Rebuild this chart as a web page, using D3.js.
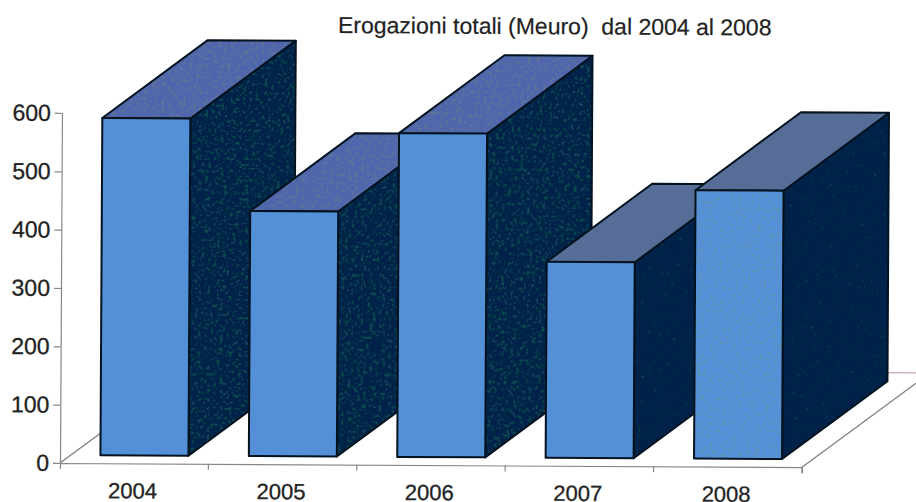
<!DOCTYPE html>
<html>
<head>
<meta charset="utf-8">
<title>Erogazioni totali</title>
<script src="https://cdnjs.cloudflare.com/ajax/libs/d3/7.8.5/d3.min.js"></script>
<style>
  html, body { margin: 0; padding: 0; background: #fff; }
  svg { display: block; }
  text { font-family: "Liberation Sans", Arial, sans-serif; fill: #222; }
  .axis path, .axis line { stroke: #8a8588; stroke-width: 1.2; }
</style>
</head>
<body>
<div id="chart"></div>
<script>
var years = ["2004", "2005", "2006", "2007", "2008"];
var erogazioni = [578, 420, 555, 336, 460];
var yTicks = [0, 100, 200, 300, 400, 500, 600];
var titleText = "Erogazioni totali (Meuro)  dal 2004 al 2008";

var width = 916, height = 502;
var origin = { x: 60, y: 463 };
var plotWidth = 742, plotHeight = 350;

// 3d offsets: the bar depth and the gap to the front of the floor
var depth = { x: 105, y: -78.5 };
var inset = { x: 10.2, y: -8 };
var floorDepth = { x: 121, y: -90 };
var backWallY = -95;

var svg = d3.select("#chart").append("svg")
  .attr("width", width)
  .attr("height", height);

// speckle from the scan, stronger on the older bars
var defs = svg.append("defs");
function speckle(id, cut, colour) {
  var f = defs.append("filter").attr("id", id)
    .attr("x", 0).attr("y", 0).attr("width", 1).attr("height", 1);
  f.append("feTurbulence")
    .attr("type", "fractalNoise").attr("baseFrequency", 0.32)
    .attr("numOctaves", 3).attr("seed", 4).attr("result", "noise");
  f.append("feColorMatrix").attr("in", "noise").attr("type", "matrix")
    .attr("values", "0 0 0 0 0  0 0 0 0 0  0 0 0 0 0  " + "12 0 0 0 " + cut)
    .attr("result", "mask");
  f.append("feFlood").attr("flood-color", colour).attr("result", "col");
  f.append("feComposite").attr("in", "col").attr("in2", "mask")
    .attr("operator", "in").attr("result", "dots");
  f.append("feComposite").attr("in", "dots").attr("in2", "SourceAlpha")
    .attr("operator", "in").attr("result", "clipped");
  var m = f.append("feMerge");
  m.append("feMergeNode").attr("in", "SourceGraphic");
  m.append("feMergeNode").attr("in", "clipped");
}
speckle("sideHeavy", -7.0, "#0b4a50");
speckle("sideLight", -8.8, "#0b4a50");
speckle("topHeavy", -6.8, "#5f7298");
speckle("frontLight", -7.0, "#5a94b8");

var xPositionScale = d3.scaleBand()
  .domain(years)
  .range([0, plotWidth])
  .paddingInner(0.407)
  .paddingOuter(0.2035);
var yPositionScale = d3.scaleLinear()
  .domain([0, 600])
  .range([0, -plotHeight]);

// the whole scan sits a little crooked
var plot = svg.append("g")
  .attr("transform", "translate(" + origin.x + "," + origin.y + ") rotate(0.32)");

// floor and back wall lines
var floor = plot.append("g")
  .attr("fill", "none")
  .attr("stroke", "#7d7a80")
  .attr("stroke-width", 1.2);
floor.append("line")
  .attr("x2", floorDepth.x).attr("y2", floorDepth.y);
floor.append("line")
  .attr("x1", plotWidth).attr("x2", plotWidth + floorDepth.x)
  .attr("y2", floorDepth.y);
floor.append("line")
  .attr("x1", floorDepth.x).attr("x2", plotWidth + floorDepth.x + 10)
  .attr("y1", backWallY).attr("y2", backWallY)
  .attr("stroke", "#c9a6a8");

var xAxis = d3.axisBottom(xPositionScale).tickSize(6).tickSizeOuter(6);
plot.append("g")
  .attr("class", "axis x-axis")
  .call(xAxis)
  .call(function(g) {
    // ticks mark the band edges, not the centres
    g.selectAll(".tick line")
      .attr("x1", xPositionScale.step() / 2)
      .attr("x2", xPositionScale.step() / 2);
    g.selectAll(".tick text")
      .attr("y", 35).attr("dy", null).attr("x", -1.5)
      .attr("font-size", 22)
      .attr("stroke", "#222").attr("stroke-width", 0.3);
    g.select(".domain").attr("stroke-width", 1.6);
  });

var yAxis = d3.axisLeft(yPositionScale)
  .tickValues(yTicks)
  .tickSize(7)
  .tickSizeOuter(7)
  .tickPadding(4);
plot.append("g")
  .attr("class", "axis y-axis")
  .call(yAxis)
  .call(function(g) {
    g.selectAll(".tick text").attr("font-size", 23)
      .attr("stroke", "#222").attr("stroke-width", 0.3);
  });

function polygon(points) {
  return points.map(function(p) { return p.join(","); }).join(" ");
}

// one face of a bar: the speckled fill, then the outline on top of it
function drawFace(sel, points, fill, filter) {
  sel.append("polygon")
    .attr("points", points)
    .attr("fill", fill)
    .attr("filter", filter);
  sel.append("polygon")
    .attr("points", points)
    .attr("fill", "none")
    .attr("stroke", "#02121f")
    .attr("stroke-width", 2)
    .attr("stroke-linejoin", "round");
}

var bars = plot.selectAll(".bar")
  .data(years)
  .enter().append("g")
    .attr("class", "bar");

// side face
drawFace(bars, function(d, i) {
  var x = xPositionScale(d) + inset.x + xPositionScale.bandwidth();
  var y0 = inset.y, y1 = inset.y + yPositionScale(erogazioni[i]);
  return polygon([[x, y0], [x + depth.x, y0 + depth.y], [x + depth.x, y1 + depth.y], [x, y1]]);
}, "#02234a", function(d, i) {
  if (i < 3) { return "url(#sideHeavy)"; }
  return "url(#sideLight)";
});

// top face
drawFace(bars, function(d, i) {
  var x = xPositionScale(d) + inset.x, w = xPositionScale.bandwidth();
  var y = inset.y + yPositionScale(erogazioni[i]);
  return polygon([[x, y], [x + w, y], [x + w + depth.x, y + depth.y], [x + depth.x, y + depth.y]]);
}, function(d, i) {
  if (i < 3) { return "#4f66ad"; }
  return "#566d97";
}, function(d, i) {
  if (i < 3) { return "url(#topHeavy)"; }
  return null;
});

// front face
drawFace(bars, function(d, i) {
  var x = xPositionScale(d) + inset.x, w = xPositionScale.bandwidth();
  var y = inset.y + yPositionScale(erogazioni[i]);
  return polygon([[x, y], [x + w, y], [x + w, inset.y], [x, inset.y]]);
}, "#5490d8", function(d, i) {
  if (i == 4) { return "url(#frontLight)"; }
  return null;
});

svg.append("text")
  .attr("x", 338)
  .attr("y", 33)
  .attr("transform", "rotate(0.32 338 33)")
  .attr("font-size", 23)
  .attr("stroke", "#222")
  .attr("stroke-width", 0.2)
  .style("white-space", "pre")
  .text(titleText);
</script>
</body>
</html>
